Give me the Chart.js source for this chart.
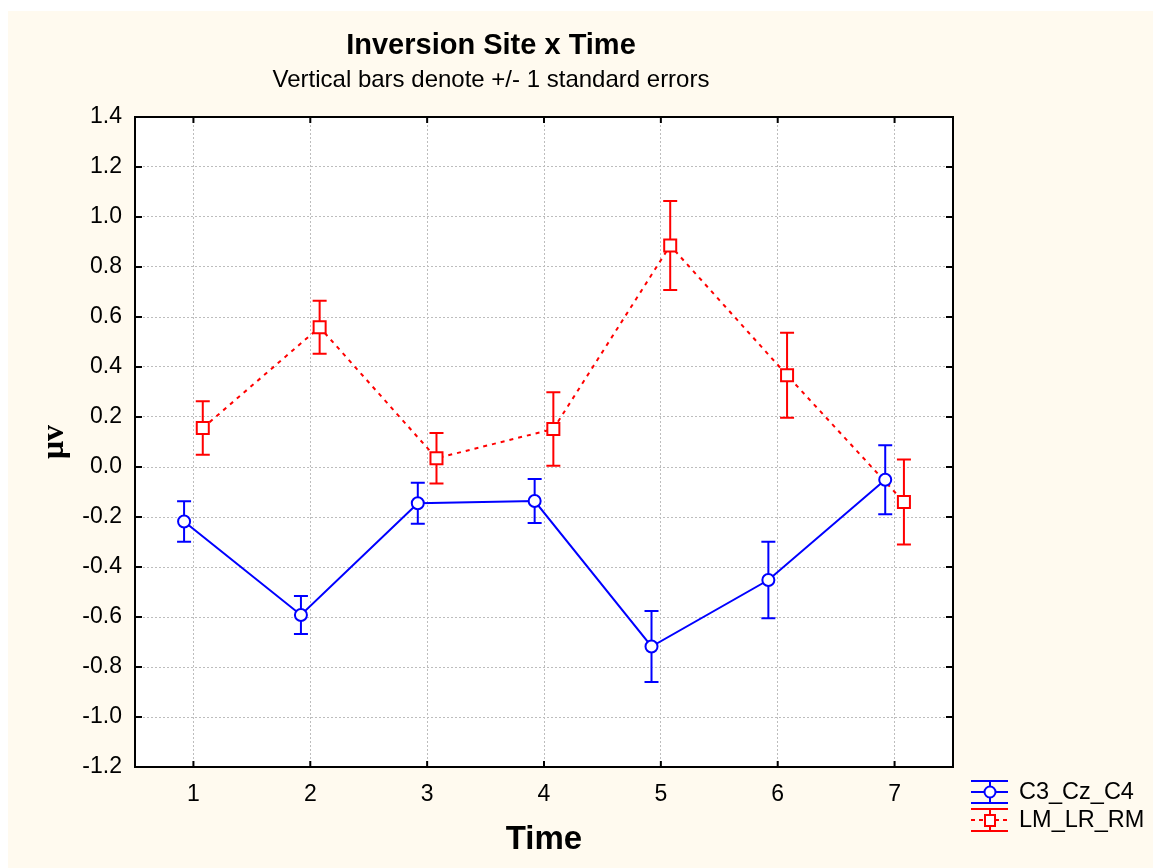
<!DOCTYPE html>
<html>
<head>
<meta charset="utf-8">
<title>Inversion Site x Time</title>
<script src="https://cdn.jsdelivr.net/npm/chart.js@4.4.1/dist/chart.umd.min.js"></script>
<style>
  html, body { margin: 0; padding: 0; background: #fff; }
  #wrap { width: 1153px; height: 868px; }
</style>
</head>
<body>
<div id="wrap"><canvas id="chart" width="1153" height="868"></canvas></div>
<script>
// Means and standard errors per time point
const times = [1, 2, 3, 4, 5, 6, 7];
const yTicks = [-1.2, -1.0, -0.8, -0.6, -0.4, -0.2, 0.0, 0.2, 0.4, 0.6, 0.8, 1.0, 1.2, 1.4];
const c3Mean = [-0.218, -0.592, -0.145, -0.136, -0.718, -0.452, -0.051];
const c3Se = [0.081, 0.076, 0.082, 0.088, 0.142, 0.153, 0.138];
const lmMean = [0.156, 0.559, 0.035, 0.152, 0.886, 0.367, -0.140];
const lmSe = [0.107, 0.106, 0.101, 0.147, 0.178, 0.170, 0.170];

const FONT = '"Liberation Sans", Arial, sans-serif';
const shift = 0.08; // small sideways offset so the two series don't overlap

function points(means, dx) {
  return times.map((t, i) => ({ x: t + dx, y: means[i] }));
}

const decor = {
  id: 'decor',
  beforeDraw(chart) {
    const { ctx, chartArea: a, width, height } = chart;
    ctx.save();
    ctx.fillStyle = '#ffffff';
    ctx.fillRect(0, 0, width, height);
    ctx.fillStyle = '#fffaef';
    ctx.fillRect(8, 11, width - 8, height - 11);
    ctx.fillStyle = '#ffffff';
    ctx.fillRect(a.left, a.top, a.right - a.left, a.bottom - a.top);
    ctx.restore();
  },
  beforeDatasetsDraw(chart) {
    // error bars go under the lines and markers
    const { ctx } = chart;
    const xs = chart.scales.x, ys = chart.scales.y;
    ctx.save();
    ctx.lineWidth = 2;
    chart.data.datasets.forEach(ds => {
      ctx.strokeStyle = ds.borderColor;
      ds.data.forEach((p, i) => {
        const px = xs.getPixelForValue(p.x);
        const top = ys.getPixelForValue(p.y + ds.se[i]);
        const bot = ys.getPixelForValue(p.y - ds.se[i]);
        ctx.beginPath();
        ctx.moveTo(px, top); ctx.lineTo(px, bot);
        ctx.moveTo(px - 7, top); ctx.lineTo(px + 7, top);
        ctx.moveTo(px - 7, bot); ctx.lineTo(px + 7, bot);
        ctx.stroke();
      });
    });
    ctx.restore();
  },
  afterDraw(chart) {
    const { ctx, chartArea: a } = chart;
    const xs = chart.scales.x, ys = chart.scales.y;
    ctx.save();

    // frame with inward ticks
    ctx.strokeStyle = '#000';
    ctx.lineWidth = 2;
    ctx.strokeRect(a.left, a.top, a.right - a.left, a.bottom - a.top);
    ctx.beginPath();
    yTicks.forEach(v => {
      const py = ys.getPixelForValue(v);
      ctx.moveTo(a.left, py); ctx.lineTo(a.left + 7, py);
      ctx.moveTo(a.right, py); ctx.lineTo(a.right - 7, py);
    });
    times.forEach(v => {
      const px = xs.getPixelForValue(v);
      ctx.moveTo(px, a.top); ctx.lineTo(px, a.top + 6);
      ctx.moveTo(px, a.bottom); ctx.lineTo(px, a.bottom - 6);
    });
    ctx.stroke();

    // titles
    ctx.fillStyle = '#000';
    ctx.textAlign = 'center';
    ctx.textBaseline = 'alphabetic';
    ctx.font = 'bold 29px ' + FONT;
    ctx.fillText('Inversion Site x Time', 491, 54);
    ctx.font = '24px ' + FONT;
    ctx.fillText('Vertical bars denote +/- 1 standard errors', 491, 87);

    // legend
    const lx0 = 971, lx1 = 1008, cx = 990;
    ctx.lineWidth = 2;
    ctx.strokeStyle = '#0000ff';
    ctx.beginPath();
    [781, 792, 803].forEach(y => { ctx.moveTo(lx0, y); ctx.lineTo(lx1, y); });
    ctx.moveTo(cx, 781); ctx.lineTo(cx, 803);
    ctx.stroke();
    ctx.beginPath();
    ctx.arc(cx, 792, 5.5, 0, Math.PI * 2);
    ctx.fillStyle = '#fff';
    ctx.fill();
    ctx.stroke();

    ctx.strokeStyle = '#ff0000';
    ctx.beginPath();
    [809, 831].forEach(y => { ctx.moveTo(lx0, y); ctx.lineTo(lx1, y); });
    ctx.moveTo(cx, 809); ctx.lineTo(cx, 831);
    ctx.stroke();
    ctx.setLineDash([4, 4]);
    ctx.beginPath();
    ctx.moveTo(lx0, 820); ctx.lineTo(lx1, 820);
    ctx.stroke();
    ctx.setLineDash([]);
    ctx.fillStyle = '#fff';
    ctx.fillRect(cx - 5, 815, 10, 11);
    ctx.strokeRect(cx - 5, 815, 10, 11);

    ctx.fillStyle = '#000';
    ctx.font = '23.5px ' + FONT;
    ctx.textAlign = 'left';
    ctx.textBaseline = 'middle';
    ctx.fillText('C3_Cz_C4', 1019, 793);
    ctx.fillText('LM_LR_RM', 1019, 821);
    ctx.restore();
  }
};

new Chart(document.getElementById('chart'), {
  type: 'line',
  data: {
    datasets: [
      {
        label: 'C3_Cz_C4',
        data: points(c3Mean, -shift),
        se: c3Se,
        borderColor: '#0000ff',
        borderWidth: 2,
        pointStyle: 'circle',
        pointRadius: 6,
        pointBorderWidth: 2,
        pointBackgroundColor: '#ffffff',
        pointBorderColor: '#0000ff',
        tension: 0
      },
      {
        label: 'LM_LR_RM',
        data: points(lmMean, shift),
        se: lmSe,
        borderColor: '#ff0000',
        borderWidth: 2,
        borderDash: [4, 5],
        pointStyle: 'rect',
        pointRadius: 8.5,
        pointBorderWidth: 2,
        pointBackgroundColor: '#ffffff',
        pointBorderColor: '#ff0000',
        tension: 0
      }
    ]
  },
  options: {
    responsive: false,
    animation: false,
    events: [],
    layout: { padding: { left: 0, top: 117, right: 200, bottom: 0 } },
    plugins: {
      legend: { display: false },
      tooltip: { enabled: false }
    },
    scales: {
      x: {
        type: 'linear',
        min: 0.5,
        max: 7.5,
        afterBuildTicks: s => { s.ticks = times.map(v => ({ value: v })); },
        afterFit: s => { s.height = 101; },
        grid: { color: '#bdbdbd', drawTicks: false },
        border: { display: false, dash: [2, 2] },
        ticks: { color: '#000', padding: 14, font: { family: FONT, size: 23 }, callback: v => String(v) },
        title: {
          display: true, text: 'Time', color: '#000',
          font: { family: FONT, size: 33, weight: 'bold' },
          padding: { top: 0, bottom: 8 }
        }
      },
      y: {
        min: -1.2,
        max: 1.4,
        afterBuildTicks: s => { s.ticks = yTicks.map(v => ({ value: v })); },
        afterFit: s => { s.width = 135; },
        grid: { color: '#bdbdbd', drawTicks: false },
        border: { display: false, dash: [2, 2] },
        ticks: { color: '#000', padding: 13, font: { family: FONT, size: 23 }, callback: v => v.toFixed(1) },
        title: {
          display: true, text: 'μv', color: '#000',
          font: { family: '"Liberation Serif", "Times New Roman", serif', size: 32, weight: 'bold' },
          padding: { top: 36, bottom: 0 }
        }
      }
    }
  },
  plugins: [decor]
});
</script>
</body>
</html>
